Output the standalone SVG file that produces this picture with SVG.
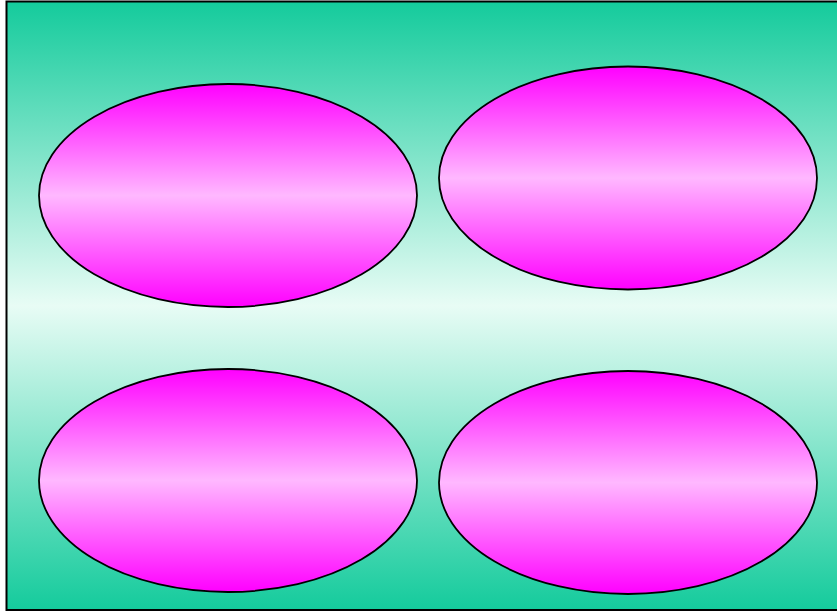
<svg xmlns="http://www.w3.org/2000/svg" width="837" height="613" viewBox="0 0 837 613">
<defs>
<linearGradient id="bg" x1="0" y1="0" x2="0" y2="1">
<stop offset="0" stop-color="#14cb9c"/>
<stop offset="0.5" stop-color="#e8fcf5"/>
<stop offset="1" stop-color="#14cb9c"/>
</linearGradient>
<linearGradient id="el" x1="0" y1="0" x2="0" y2="1">
<stop offset="0" stop-color="#ff00ff"/>
<stop offset="0.5" stop-color="#ffb8ff"/>
<stop offset="1" stop-color="#ff00ff"/>
</linearGradient>
<style>
.node{fill:url(#el);stroke:#000;stroke-width:1.8}
</style>
</defs>
<rect x="6.5" y="1.5" width="840" height="608.5" fill="url(#bg)" stroke="#000" stroke-width="2"/>
<g id="node1"><ellipse class="node" cx="228" cy="195.5" rx="189" ry="111.5"/></g>
<g id="node2"><ellipse class="node" cx="628" cy="178" rx="189" ry="111.5"/></g>
<g id="node3"><ellipse class="node" cx="228" cy="480.5" rx="189" ry="111.5"/></g>
<g id="node4"><ellipse class="node" cx="628" cy="482.5" rx="189" ry="111.5"/></g>
<g id="connectors"></g>
</svg>
